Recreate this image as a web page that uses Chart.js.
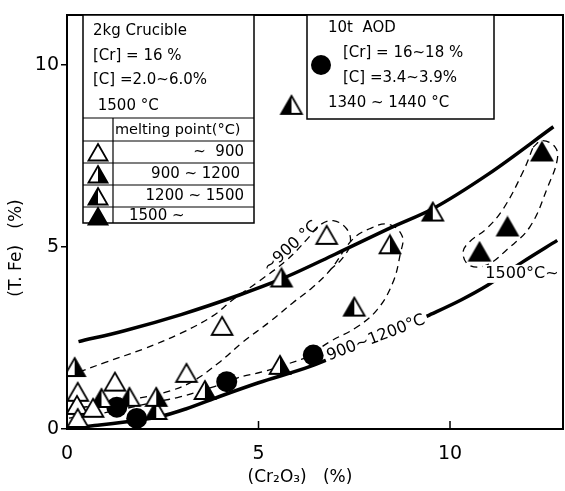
<!DOCTYPE html>
<html>
<head>
<meta charset="utf-8">
<script src="https://cdn.jsdelivr.net/npm/chart.js@4.4.1/dist/chart.umd.min.js"></script>
<style>
  html, body { margin: 0; padding: 0; background: #fff; }
  canvas { display: block; }
</style>
</head>
<body>
<canvas id="myChart-feo" width="565" height="491"></canvas>
<script>
/*        T.Fe in slag vs Cr2O3 : crucible runs and 10t AOD heats        */

// slag melting point groups, [Cr2O3 %, T.Fe %]
const meltTo900 = [[0.28, 0.94], [0.26, 0.58], [0.28, 0.22], [0.68, 0.50], [1.25, 1.22], [3.12, 1.46], [4.05, 2.75], [6.78, 5.25]];
const melt900to1200 = [[0.20, 1.62], [2.33, 0.80], [3.60, 0.99], [5.56, 1.68], [5.60, 4.08], [8.43, 4.99]];
const melt1200to1500 = [[0.90, 0.77], [1.63, 0.80], [2.33, 0.44], [7.50, 3.28], [9.55, 5.89], [5.86, 8.82]];
const melt1500up = [[10.77, 4.79], [11.50, 5.48], [12.40, 7.54]];
const aodHeats = [[1.30, 0.60], [1.82, 0.29], [4.17, 1.30], [6.43, 2.03]];

// bounding curves
const upperCurve = [[0.30, 2.40], [1.5, 2.70], [3.0, 3.15], [4.5, 3.68], [5.6, 4.12], [7.0, 4.80], [8.5, 5.55], [9.55, 6.05], [11.0, 7.00], [12.7, 8.30]];
const lowerCurve = [[0.15, 0.03], [0.8, 0.10], [1.56, 0.20], [2.43, 0.34], [3.1, 0.55], [4.0, 0.90], [5.0, 1.27], [6.35, 1.72], [7.5, 2.22], [8.5, 2.66], [9.4, 3.10], [10.3, 3.55], [10.97, 3.94], [11.87, 4.57], [12.8, 5.18]];

// dashed group outlines
const zone900 = [[0.02, 1.45], [1.0, 1.83], [2.0, 2.20], [2.95, 2.62], [3.8, 3.10], [4.33, 3.55], [5.0, 4.05], [5.75, 4.65], [6.3, 5.25], [6.6, 5.60], [6.95, 5.72], [7.3, 5.50], [7.4, 5.10], [7.2, 4.70], [6.9, 4.40]];
const zone1200 = [[0.05, 0.55], [1.0, 0.68], [1.9, 0.85], [2.7, 1.05], [3.3, 1.32], [4.0, 1.85], [4.57, 2.37], [5.3, 2.95], [5.9, 3.47], [6.4, 3.88], [6.9, 4.40], [7.45, 5.20], [7.9, 5.50], [8.4, 5.62], [8.75, 5.30], [8.7, 4.80], [8.5, 4.00], [8.1, 3.28], [7.57, 2.80], [6.9, 2.42], [6.43, 2.10]];
const zone1200low = [[0.05, 0.30], [1.0, 0.45], [2.35, 0.75], [2.95, 0.88], [3.8, 1.15], [4.44, 1.40], [5.1, 1.57], [5.8, 1.80], [6.43, 2.03]];
const zone1500 = [[12.17, 7.74], [12.4, 7.92], [12.74, 7.75], [12.8, 7.40], [12.56, 6.67], [12.09, 5.56], [11.49, 4.93], [10.95, 4.50], [10.5, 4.50], [10.34, 4.85], [10.52, 5.15], [10.95, 5.50], [11.38, 6.03], [11.9, 7.05], [12.17, 7.74]];

const xTicks = [0, 5, 10];
const yTicks = [0, 5, 10];

const FONT = '"DejaVu Sans", sans-serif';
const TRI_R = 12;

const pts = arr => arr.map(p => ({ x: p[0], y: p[1] }));

// triangle with optional half / full fill
function drawTri(c, cx, cy, r, fill) {
    const h = r * Math.sqrt(3) / 2;
    const top = [cx, cy - r], bl = [cx - h, cy + r / 2], br = [cx + h, cy + r / 2], bm = [cx, cy + r / 2];
    c.save();
    c.lineJoin = 'miter';
    c.beginPath();
    c.moveTo(top[0], top[1]); c.lineTo(br[0], br[1]); c.lineTo(bl[0], bl[1]); c.closePath();
    c.fillStyle = fill === 'full' ? '#000' : '#fff';
    c.fill();
    if (fill === 'right' || fill === 'left') {
        const side = fill === 'right' ? br : bl;
        c.beginPath();
        c.moveTo(top[0], top[1]); c.lineTo(side[0], side[1]); c.lineTo(bm[0], bm[1]); c.closePath();
        c.fillStyle = '#000';
        c.fill();
    }
    c.beginPath();
    c.moveTo(top[0], top[1]); c.lineTo(br[0], br[1]); c.lineTo(bl[0], bl[1]); c.closePath();
    c.lineWidth = 1.8;
    c.strokeStyle = '#000';
    c.stroke();
    c.restore();
}

function triImage(fill) {
    const cv = document.createElement('canvas');
    cv.width = 28; cv.height = 28;
    drawTri(cv.getContext('2d'), 14, 14, TRI_R, fill);
    return cv;
}

const triOpen = triImage('none');
const triRight = triImage('right');
const triLeft = triImage('left');
const triFull = triImage('full');

function curveSet(data, width, dash) {
    return {
        data: pts(data),
        showLine: true,
        borderColor: '#000',
        borderWidth: width,
        borderDash: dash || [],
        pointRadius: 0,
        tension: 0.4,
        order: 2
    };
}

function markerSet(data, style, radius) {
    return {
        data: pts(data),
        pointStyle: style,
        pointRadius: radius || TRI_R,
        backgroundColor: '#000',
        borderColor: '#000',
        borderWidth: 0,
        order: 0
    };
}

// text, boxes, frame and inner ticks drawn on top of the datasets
const annotate = {
    id: 'annotate',
    afterDatasetsDraw(chart) {
        const c = chart.ctx, a = chart.chartArea;
        const xs = chart.scales.x, ys = chart.scales.y;
        c.save();

        // curve labels, white behind so the line breaks
        function tag(text, xv, yv, deg, bg) {
            c.save();
            c.translate(xs.getPixelForValue(xv), ys.getPixelForValue(yv));
            c.rotate(deg * Math.PI / 180);
            c.font = '16px ' + FONT;
            c.textAlign = 'center';
            c.textBaseline = 'middle';
            if (bg) {
                const w = c.measureText(text).width;
                c.fillStyle = '#fff';
                c.fillRect(-w / 2 - 3, -9, w + 6, 18);
            }
            c.fillStyle = '#000';
            c.fillText(text, 0, 0);
            c.restore();
        }
        tag('900~1200°C', 8.07, 2.5, -21, true);
        tag('1500°C~', 11.88, 4.26, 0, true);
        tag('~900 °C', 5.85, 5.0, -42, false);

        // frame
        c.strokeStyle = '#000';
        c.lineWidth = 2;
        c.strokeRect(a.left, a.top, a.right - a.left, a.bottom - a.top);

        // inner ticks on x axis
        c.lineWidth = 1.5;
        xTicks.slice(1).forEach(v => {
            const px = xs.getPixelForValue(v);
            c.beginPath(); c.moveTo(px, a.bottom); c.lineTo(px, a.bottom - 8); c.stroke();
        });

        // crucible box
        const L = a.left + 16, T = a.top, R = L + 171, B = T + 208;
        c.fillStyle = '#fff';
        c.fillRect(L, T, R - L, B - T);
        c.lineWidth = 1.5;
        c.strokeRect(L, T, R - L, B - T);
        c.lineWidth = 1.2;
        [103, 126, 148, 170, 192].forEach(dy => {
            c.beginPath(); c.moveTo(L, T + dy); c.lineTo(R, T + dy); c.stroke();
        });
        c.beginPath(); c.moveTo(L + 30, T + 103); c.lineTo(L + 30, B); c.stroke();

        c.fillStyle = '#000';
        c.textBaseline = 'middle';
        c.textAlign = 'left';
        c.font = '15px ' + FONT;
        c.fillText('2kg Crucible', L + 10, T + 16);
        c.fillText('[Cr] = 16 %', L + 10, T + 41);
        c.fillText('[C] =2.0~6.0%', L + 10, T + 65);
        c.fillText(' 1500 °C', L + 10, T + 91);
        c.font = '14.5px ' + FONT;
        c.fillText('melting point(°C)', L + 32, T + 115);
        c.textAlign = 'right';
        c.font = '15px ' + FONT;
        c.fillText('~  900', R - 10, T + 137);
        c.fillText('900 ~ 1200', R - 14, T + 159);
        c.fillText('1200 ~ 1500', R - 10, T + 181);
        c.textAlign = 'left';
        c.fillText('1500 ~', L + 46, T + 201);
        drawTri(c, L + 15, T + 140, 11, 'none');
        drawTri(c, L + 15, T + 162, 11, 'right');
        drawTri(c, L + 15, T + 184, 11, 'left');
        drawTri(c, L + 15, T + 204, 11, 'full');

        // AOD box
        const L2 = a.left + 240, T2 = a.top, R2 = L2 + 187, B2 = T2 + 104;
        c.fillStyle = '#fff';
        c.fillRect(L2, T2, R2 - L2, B2 - T2);
        c.lineWidth = 1.5;
        c.strokeRect(L2, T2, R2 - L2, B2 - T2);
        c.fillStyle = '#000';
        c.font = '15px ' + FONT;
        c.fillText('10t  AOD', L2 + 21, T2 + 13);
        c.fillText('[Cr] = 16~18 %', L2 + 36, T2 + 38);
        c.fillText('[C] =3.4~3.9%', L2 + 36, T2 + 63);
        c.fillText('1340 ~ 1440 °C', L2 + 21, T2 + 88);
        c.beginPath(); c.arc(L2 + 14, T2 + 50, 10, 0, Math.PI * 2); c.fill();

        // axis titles
        c.font = '17px ' + FONT;
        c.textAlign = 'center';
        c.fillText('(Cr\u2082O\u2083)   (%)', 300, 478);
        c.save();
        c.translate(17, 248);
        c.rotate(-Math.PI / 2);
        c.fillText('(T. Fe)   (%)', 0, 0);
        c.restore();

        c.restore();
    }
};

let ctx0 = document.getElementById('myChart-feo').getContext('2d');
var chart = new Chart(ctx0, {
    type: 'scatter',
    data: {
        datasets: [
            markerSet(meltTo900, triOpen),
            markerSet(melt900to1200, triRight),
            markerSet(melt1200to1500, triLeft),
            markerSet(melt1500up, triFull),
            markerSet(aodHeats, 'circle', 10.5),
            Object.assign(curveSet(upperCurve, 3.5), { cubicInterpolationMode: 'monotone' }),
            Object.assign(curveSet(lowerCurve, 3.5), { cubicInterpolationMode: 'monotone' }),
            curveSet(zone900, 1.3, [7, 5]),
            curveSet(zone1200, 1.3, [7, 5]),
            curveSet(zone1200low, 1.3, [7, 5]),
            curveSet(zone1500, 1.3, [7, 5])
        ]
    },
    options: {
        responsive: false,
        animation: false,
        layout: { autoPadding: false, padding: { top: 15, right: 2, left: 0, bottom: 0 } },
        plugins: {
            legend: { display: false },
            tooltip: { enabled: false }
        },
        scales: {
            x: {
                type: 'linear',
                min: 0,
                max: 12.95,
                afterBuildTicks: s => { s.ticks = xTicks.map(v => ({ value: v })); },
                afterFit: s => { s.height = 62; s.paddingLeft = 0; s.paddingRight = 0; },
                border: { display: false },
                grid: { display: false },
                ticks: { color: '#000', font: { family: FONT, size: 19 }, padding: 6, maxRotation: 0 }
            },
            y: {
                type: 'linear',
                min: 0,
                max: 11.37,
                afterBuildTicks: s => { s.ticks = yTicks.map(v => ({ value: v })); },
                afterFit: s => { s.width = 67; s.paddingTop = 0; s.paddingBottom = 0; },
                border: { display: false },
                grid: { drawOnChartArea: false, color: '#000', lineWidth: 1.5, tickLength: 6 },
                ticks: { color: '#000', font: { family: FONT, size: 19 }, padding: 2 }
            }
        }
    },
    plugins: [annotate]
});
</script>
</body>
</html>
